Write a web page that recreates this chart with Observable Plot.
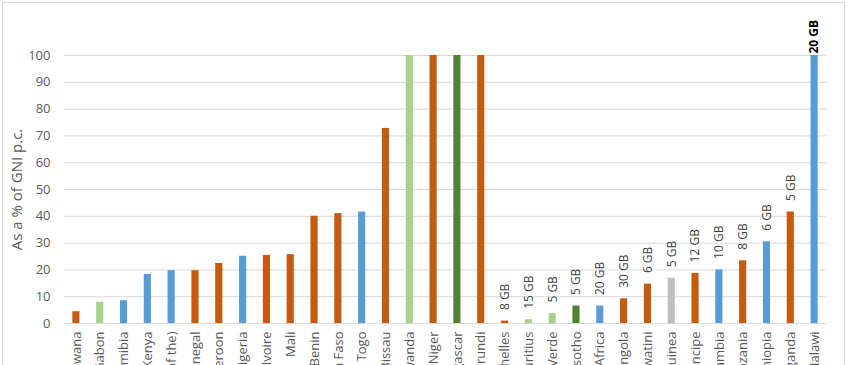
<!DOCTYPE html>
<html><head><meta charset="utf-8">
<script src="https://cdn.jsdelivr.net/npm/d3@7"></script>
<script src="https://cdn.jsdelivr.net/npm/@observablehq/plot@0.6"></script>
<style>
html,body{margin:0;padding:0;background:#fff;overflow:hidden}
#frame{position:absolute;left:2px;top:2px;width:843px;height:420px;border:1.5px solid #d9d9d9;box-sizing:border-box}
#chart{position:absolute;left:0;top:0}
</style></head><body>
<div id="frame"></div><div id="chart"></div>
<script>
const countries = ["Botswana","Gabon","Namibia","Kenya","Congo (Rep. of the)","Senegal","Cameroon","Nigeria","Côte d'Ivoire","Mali","Benin","Burkina Faso","Togo","Guinea-Bissau","Rwanda","Niger","Madagascar","Burundi","Seychelles","Mauritius","Cabo Verde","Lesotho","South Africa","Angola","Eswatini","Equatorial Guinea","Sao Tome and Principe","Zambia","Tanzania","Ethiopia","Uganda","Malawi"];
const values = [4.4,7.9,8.5,18.3,19.7,19.7,22.4,25.1,25.4,25.7,40,41,41.6,72.8,100,100,100,100,0.9,1.4,3.7,6.5,6.5,9.2,14.7,16.9,18.7,20,23.4,30.5,41.6,100];
const groups = ["A","B","C","C","C","A","A","C","A","A","A","A","C","A","B","A","D","A","A","B","B","D","C","A","A","E","A","C","A","C","A","C"];
const dataLabels = ["","","","","","","","","","","","","","","","","","","8 GB","15 GB","5 GB","5 GB","20 GB","30 GB","6 GB","5 GB","12 GB","10 GB","8 GB","6 GB","5 GB","20 GB"];
const groupNames = ["A","B","C","D","E"];
const groupColors = ["#C55A11","#A9D18E","#5B9BD5","#548235","#BFBFBF"];
const yTicks = [0,10,20,30,40,50,60,70,80,90,100];

const data = countries.map((c, i) => ({country: c, value: values[i], group: groups[i], label: dataLabels[i]}));

const chart = Plot.plot({
  width: 850, height: 365,
  marginTop: 55, marginBottom: 42, marginLeft: 64, marginRight: 24,
  style: {fontFamily: "'Open Sans', sans-serif", fontSize: "13px", color: "#595959", background: "transparent"},
  x: {domain: countries, paddingInner: 0.7, paddingOuter: 0.35, round: false, label: null, tickSize: 0, tickRotate: -90, tickPadding: 8},
  y: {domain: [0, 100], ticks: yTicks, label: "As a % of GNI p.c.", labelAnchor: "center", labelArrow: false, labelOffset: 53, tickSize: 0, tickPadding: 14},
  color: {domain: groupNames, range: groupColors},
  marks: [
    Plot.gridY(yTicks, {stroke: "#d9d9d9", strokeOpacity: 1}),
    Plot.barY(data, {x: "country", y: "value", fill: "group"}),
    Plot.ruleY([0], {stroke: "#d9d9d9"}),
    Plot.text(data.filter(d => d.label && d.value < 100), {x: "country", y: "value", text: "label", rotate: -90, textAnchor: "start", dy: -11, fill: "#404040", fontSize: 12}),
    Plot.text(data.filter(d => d.label && d.value >= 100), {x: "country", y: "value", text: "label", rotate: -90, textAnchor: "start", dy: -2, fill: "#000", fontWeight: "bold", fontSize: 12})
  ]
});
d3.select(chart).selectAll('g[aria-label="y-axis label"] text').style("font-size", "15px");
document.getElementById("chart").appendChild(chart);
</script>
</body></html>
